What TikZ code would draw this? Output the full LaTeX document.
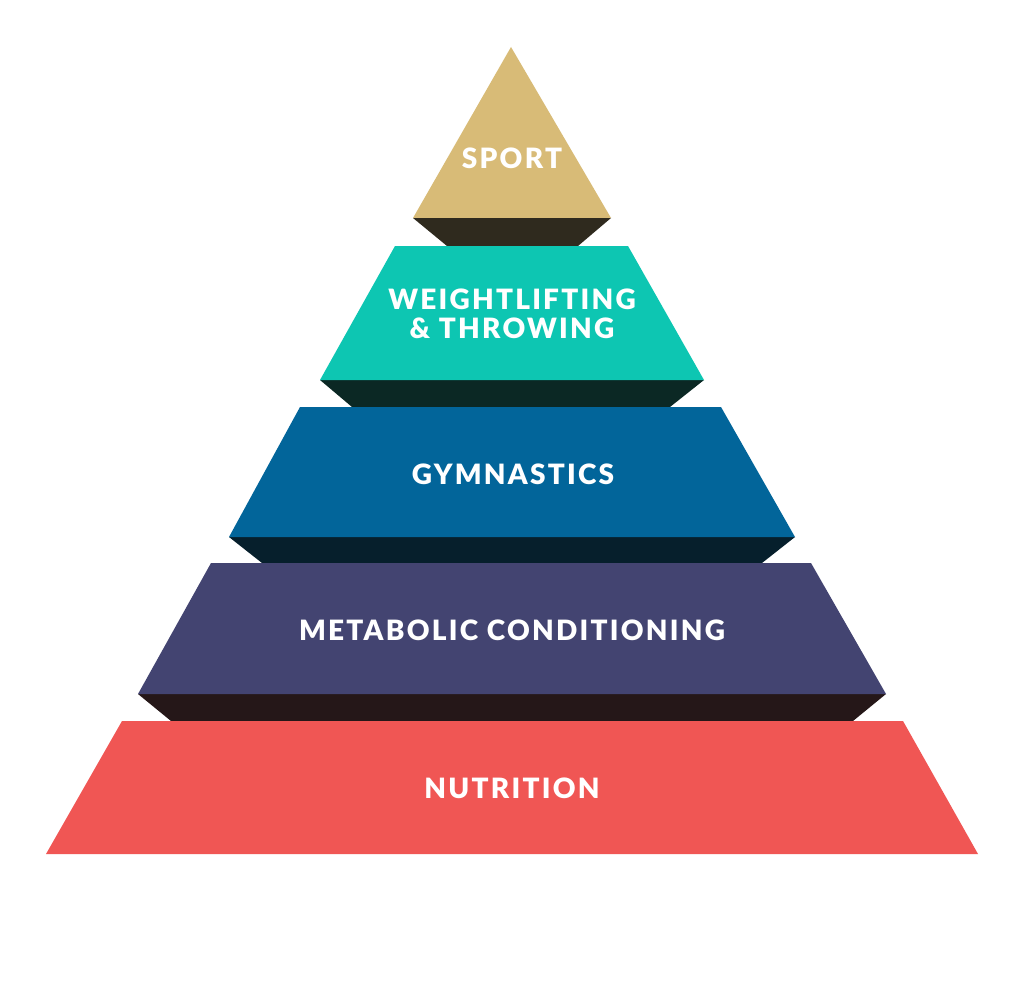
\documentclass[tikz,border=0pt]{standalone}
\usepackage{fontspec}
\newfontfamily\pyrfont[LetterSpace=8]{Lato Black}
\definecolor{csport}{HTML}{D8BB77}
\definecolor{csportsh}{HTML}{2F2A1E}
\definecolor{cteal}{HTML}{0DC6B2}
\definecolor{ctealsh}{HTML}{0B2824}
\definecolor{cblue}{HTML}{02659A}
\definecolor{cbluesh}{HTML}{061F2C}
\definecolor{cpurp}{HTML}{434471}
\definecolor{cpurpsh}{HTML}{251718}
\definecolor{cred}{HTML}{F05654}
\begin{document}
\begin{tikzpicture}[x=1pt,y=-1pt,
  lbl/.style={text=white,font=\pyrfont\fontsize{28}{30}\selectfont,align=center,inner sep=0pt}]
\useasboundingbox[fill=white] (0,0) rectangle (1024,984);
% sport
\fill[csportsh] (413,218) -- (611,218) -- (578,246) -- (447,246) -- cycle;
\fill[csport] (511,47) -- (611,218) -- (413,218) -- cycle;
% teal
\fill[ctealsh] (320,380) -- (704,380) -- (670,407) -- (352,407) -- cycle;
\fill[cteal] (395,246) -- (628,246) -- (704,380) -- (320,380) -- cycle;
% blue
\fill[cbluesh] (229,537) -- (795,537) -- (762,563) -- (262,563) -- cycle;
\fill[cblue] (300,407) -- (721,407) -- (795,537) -- (229,537) -- cycle;
% purple
\fill[cpurpsh] (138,694) -- (886,694) -- (853,721) -- (171,721) -- cycle;
\fill[cpurp] (211,563) -- (811,563) -- (886,694) -- (138,694) -- cycle;
% red
\fill[cred] (122,721) -- (903,721) -- (978,854) -- (46,854) -- cycle;
% labels
\node[lbl] (sport) at (512,158) {SPORT};
\node[lbl] (wl) at (512,314) {WEIGHTLIFTING\\[-1pt]\& THROWING};
\node[lbl] (gym) at (513,474) {GYMNASTICS};
\node[lbl] (met) at (512,630) {METABOLIC CONDITIONING};
\node[lbl] (nut) at (512,788) {NUTRITION};
\end{tikzpicture}
\end{document}
